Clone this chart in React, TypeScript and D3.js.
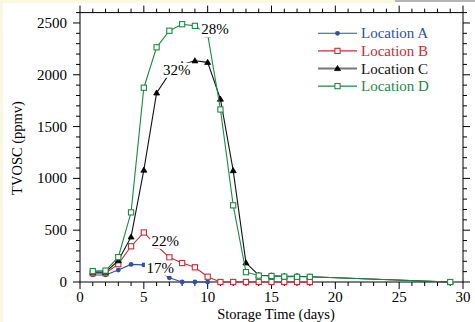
import { useEffect, useRef } from "react";
import * as d3 from "d3";

// TVOSC vs storage time for four locations, with % annotations.
const daysA = [1, 2, 3, 4, 5, 6, 7, 8, 9, 10];
const valuesA = [68, 68, 115, 170, 165, 120, 40, 0, 0, 0];
const daysB = [1, 2, 3, 4, 5, 6, 7, 8, 9, 10, 11, 12, 13, 14, 15, 16, 17, 18];
const valuesB = [85, 85, 172, 345, 478, 350, 238, 183, 142, 51, 0, 0, 0, 0, 0, 0, 0, 0];
const daysC = [1, 2, 3, 4, 5, 6, 7, 8, 9, 10, 11, 12, 13, 14, 15, 16, 17, 18, 29];
const valuesC = [95, 95, 205, 435, 1080, 1825, 2010, 2100, 2135, 2120, 1765, 1075, 185, 65, 60, 55, 55, 50, 0];
const daysD = [1, 2, 3, 4, 5, 6, 7, 8, 9, 10, 11, 12, 13, 14, 15, 16, 17, 18, 29];
const valuesD = [105, 110, 240, 672, 1875, 2265, 2425, 2488, 2472, 2390, 1665, 740, 95, 62, 58, 52, 50, 50, 0];

const seriesNames = ["Location A", "Location B", "Location C", "Location D"];
const xTicks = [0, 5, 10, 15, 20, 25, 30];
const yTicks = [0, 500, 1000, 1500, 2000, 2500];

// annotations: text, anchor day, anchor value (text baseline-left position in data coords)
const noteTexts = ["28%", "32%", "22%", "17%"];
const noteDays = [9.5, 6.5, 5.6, 5.2];
const noteValues = [2390, 2000, 350, 90];

const COLORS = ["#2f4fa8", "#cc2b33", "#111111", "#1d8a46"];
const FONT = "'Liberation Serif', 'Times New Roman', serif";

export default function App() {
  const ref = useRef<SVGSVGElement | null>(null);

  useEffect(() => {
    const svg = d3.select(ref.current);
    svg.selectAll("*").remove();
    const W = 475;
    const H = 322;

    svg.append("rect").attr("width", W).attr("height", H).attr("fill", "#ffffff");
    svg.append("rect").attr("width", 3).attr("height", H).attr("fill", "#fbf8e2");
    svg.append("rect").attr("width", 395).attr("height", 3).attr("fill", "#fbf8e2");
    svg.append("rect").attr("x", 395).attr("width", 80).attr("height", 2).attr("fill", "#b4b4b4");

    const x = d3.scaleLinear().domain([0, 30]).range([80, 463]);
    const y = d3.scaleLinear().domain([0, 2600]).range([282, 12.6]);
    const [x0, x1] = x.range();
    const [y0, y1] = y.range();

    const g = svg.append("g").attr("font-family", FONT);

    // frame
    g.append("rect")
      .attr("x", x0).attr("y", y1)
      .attr("width", x1 - x0).attr("height", y0 - y1)
      .attr("fill", "none").attr("stroke", "#000").attr("stroke-width", 1);

    const tick = (x1_: number, y1_: number, x2_: number, y2_: number) =>
      g.append("line")
        .attr("x1", x1_).attr("y1", y1_).attr("x2", x2_).attr("y2", y2_)
        .attr("stroke", "#000").attr("stroke-width", 1);

    // x ticks (bottom and top, outward)
    d3.range(0, 31).forEach((d) => {
      const major = d % 5 === 0;
      const len = major ? 7 : 4;
      tick(x(d), y0, x(d), y0 + len);
      tick(x(d), y1, x(d), y1 - len);
    });
    // y ticks (left and right, outward)
    d3.range(0, 2601, 100).forEach((v) => {
      const major = v % 500 === 0;
      const len = major ? 7 : 4;
      tick(x0, y(v), x0 - len, y(v));
      tick(x1, y(v), x1 + len, y(v));
    });

    g.selectAll(".xl")
      .data(xTicks)
      .join("text")
      .attr("x", (d) => x(d))
      .attr("y", 301.5)
      .attr("text-anchor", "middle")
      .attr("font-size", 15)
      .text((d) => d);

    g.selectAll(".yl")
      .data(yTicks)
      .join("text")
      .attr("x", 67)
      .attr("y", (d) => y(d) + 5)
      .attr("text-anchor", "end")
      .attr("font-size", 15)
      .text((d) => d);

    g.append("text")
      .attr("x", 276)
      .attr("y", 318.5)
      .attr("text-anchor", "middle")
      .attr("font-size", 14.5)
      .text("Storage Time (days)");

    g.append("text")
      .attr("transform", "translate(22,148) rotate(-90)")
      .attr("text-anchor", "middle")
      .attr("font-size", 14.5)
      .text("TVOSC (ppmv)");

    const allDays = [daysA, daysB, daysC, daysD];
    const allValues = [valuesA, valuesB, valuesC, valuesD];
    const line = d3
      .line<[number, number]>()
      .x((d) => x(d[0]))
      .y((d) => y(d[1]));

    const marker = (sel: d3.Selection<SVGGElement, unknown, null, undefined>, i: number, cx: number, cy: number) => {
      const c = COLORS[i];
      if (i === 0) {
        sel.append("circle").attr("cx", cx).attr("cy", cy).attr("r", 2.4).attr("fill", c);
      } else if (i === 2) {
        const s = 3;
        sel.append("path")
          .attr("d", `M${cx},${cy - s}L${cx + s},${cy + s * 0.7}L${cx - s},${cy + s * 0.7}Z`)
          .attr("fill", "#000").attr("stroke", "#000").attr("stroke-width", 0.8);
      } else {
        sel.append("rect")
          .attr("x", cx - 2.6).attr("y", cy - 2.6)
          .attr("width", 5.2).attr("height", 5.2)
          .attr("fill", "#fff").attr("stroke", c).attr("stroke-width", 1.1);
      }
    };

    // draw A, B, C, D (D on top like the original)
    [0, 1, 2, 3].forEach((i) => {
      const pts = allDays[i].map((d, k) => [d, allValues[i][k]] as [number, number]);
      const sg = g.append("g");
      sg.append("path")
        .attr("d", line(pts))
        .attr("fill", "none")
        .attr("stroke", COLORS[i])
        .attr("stroke-width", 1.1);
      pts.forEach((p) => marker(sg, i, x(p[0]), y(p[1])));
    });

    // annotations with white boxes
    noteTexts.forEach((t, i) => {
      const tx = x(noteDays[i]);
      const ty = y(noteValues[i]);
      const ng = g.append("g");
      const txt = ng.append("text")
        .attr("x", tx).attr("y", ty)
        .attr("font-size", 15)
        .text(t);
      const bb = (txt.node() as SVGTextElement).getBBox();
      ng.insert("rect", "text")
        .attr("x", bb.x - 1.5).attr("y", bb.y + 1)
        .attr("width", bb.width + 3).attr("height", bb.height - 1)
        .attr("fill", "#fff");
    });

    // legend
    const lg = g.append("g");
    seriesNames.forEach((name, i) => {
      const cy = 33.3 + i * 17.6;
      lg.append("line")
        .attr("x1", 318).attr("x2", 357).attr("y1", cy).attr("y2", cy)
        .attr("stroke", i === 2 ? "#777" : COLORS[i])
        .attr("stroke-width", i === 2 ? 2 : 1.1);
      marker(lg, i, 337.5, cy);
      lg.append("text")
        .attr("x", 361).attr("y", cy + 5)
        .attr("font-size", 15)
        .attr("fill", COLORS[i])
        .text(name);
    });
  }, []);

  return (
    <svg
      ref={ref}
      width={475}
      height={322}
      style={{ position: "absolute", left: 0, top: 0, display: "block" }}
    />
  );
}
